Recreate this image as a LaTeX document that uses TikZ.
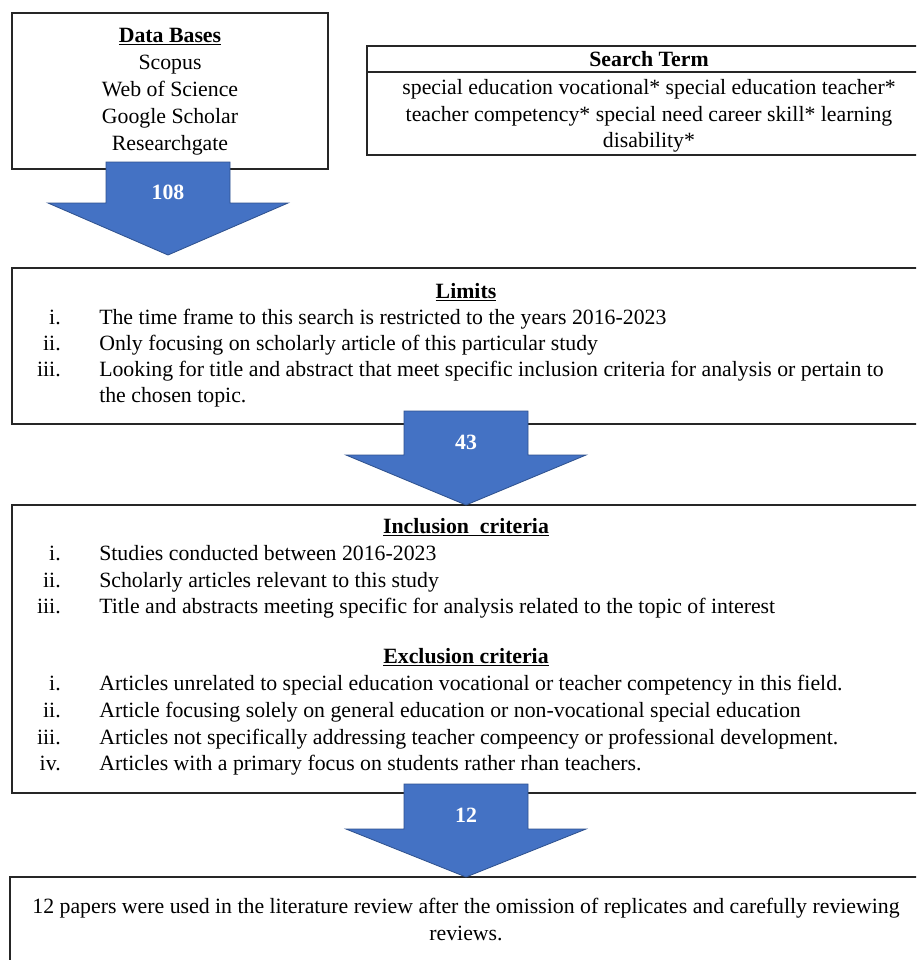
\documentclass[tikz,border=0pt]{standalone}
\usepackage{fontspec}
\setmainfont{Liberation Serif}
\definecolor{arrowblue}{HTML}{4472C4}
\definecolor{arrowedge}{HTML}{2F528F}
\tikzset{
  box/.style={draw=black!85, line width=.9pt},
  txt/.style={inner sep=0pt, yshift=-.05cm, font=\fontsize{15.5}{19}\selectfont},
  linetxt/.style={txt, anchor=base},
  numtxt/.style={txt, anchor=base east},
  itemtxt/.style={txt, anchor=base west},
  headtxt/.style={txt, anchor=base, font=\fontsize{15.5}{19}\selectfont\bfseries},
  blockarrow/.style={fill=arrowblue, draw=arrowedge, line width=.6pt},
  arrowlabel/.style={text=white, inner sep=0pt, font=\fontsize{15.5}{19}\selectfont\bfseries}
}
% x, top, head base, tip
\newcommand\blockdown[4]{\draw[blockarrow] (#1-62,#2)--(#1+62,#2)--(#1+62,#3)--(#1+120,#3)--(#1,#4)--(#1-120,#3)--(#1-62,#3)--cycle;}
\begin{document}
\begin{tikzpicture}[x=.025cm, y=-.025cm]
\clip (0,0) rectangle (916,960);
\fill[white] (0,0) rectangle (916,960);

% data bases
\draw[box] (12,13) rectangle (328,169);
\node[headtxt] (dbhead) at (170,40) {\underline{Data Bases}};
\foreach \y/\t [count=\i] in {67/Scopus, 94/Web of Science, 121/Google Scholar, 148/Researchgate}
  \node[linetxt] (db\i) at (170,\y) {\t};

% search term
\draw[box] (367,46) rectangle (935,155);
\draw[box] (367,72)--(935,72);
\node[headtxt] (sthead) at (649,64) {Search Term};
\node[linetxt] (st1) at (649,92) {special education vocational* special education teacher*};
\node[linetxt] (st2) at (649,119) {teacher competency* special need career skill* learning};
\node[linetxt] (st3) at (649,145) {disability*};

% limits
\draw[box] (12,268) rectangle (935,424);
\node[headtxt] (limhead) at (466,296) {\underline{Limits}};
\foreach \y/\t [count=\i] in {322/The time frame to this search is restricted to the years 2016-2023,
  348/Only focusing on scholarly article of this particular study,
  374/Looking for title and abstract that meet specific inclusion criteria for analysis or pertain to}{
  \node[numtxt] (limn\i) at (61,\y) {\romannumeral\i.};
  \node[itemtxt] (lim\i) at (99,\y) {\t};
}
\node[itemtxt] (lim3b) at (99,400) {the chosen topic.};

% inclusion / exclusion
\draw[box] (12,505) rectangle (935,793);
\node[headtxt] (inhead) at (466,531) {\underline{Inclusion\ \ criteria}};
\foreach \y/\t [count=\i] in {558/Studies conducted between 2016-2023,
  585/Scholarly articles relevant to this study,
  611/Title and abstracts meeting specific for analysis related to the topic of interest}{
  \node[numtxt] (inn\i) at (61,\y) {\romannumeral\i.};
  \node[itemtxt] (in\i) at (99,\y) {\t};
}
\node[headtxt] (exhead) at (466,661) {\underline{Exclusion criteria}};
\foreach \y/\t [count=\i] in {688/Articles unrelated to special education vocational or teacher competency in this field.,
  715/Article focusing solely on general education or non-vocational special education,
  742/Articles not specifically addressing teacher compeency or professional development.,
  768/Articles with a primary focus on students rather rhan teachers.}{
  \node[numtxt] (exn\i) at (61,\y) {\romannumeral\i.};
  \node[itemtxt] (ex\i) at (99,\y) {\t};
}

% result
\draw[box] (10,877) rectangle (935,975);
\node[linetxt] (res1) at (466,911) {12 papers were used in the literature review after the omission of replicates and carefully reviewing};
\node[linetxt] (res2) at (466,938) {reviews.};

% arrows
\blockdown{168}{162}{203}{255}
\node[arrowlabel] (n108) at (168,192) {108};
\blockdown{466}{411}{455}{505}
\node[arrowlabel] (n43) at (466,442) {43};
\blockdown{466}{784}{829}{877}
\node[arrowlabel] (n12) at (466,815) {12};
\end{tikzpicture}
\end{document}
